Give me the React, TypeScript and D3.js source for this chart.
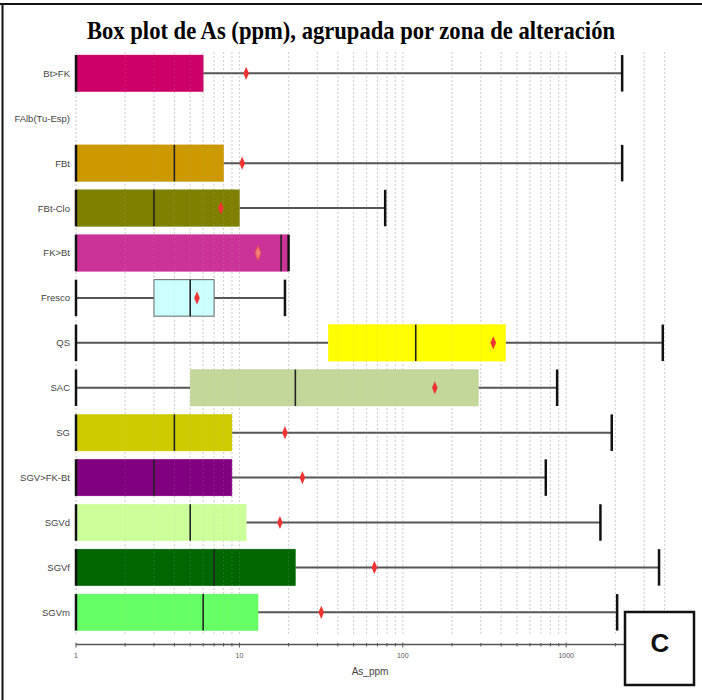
import React from "react";
import * as d3 from "d3";

const categories = ["Bt>FK", "FAlb(Tu-Esp)", "FBt", "FBt-Clo", "FK>Bt", "Fresco", "QS", "SAC", "SG", "SGV>FK-Bt", "SGVd", "SGVf", "SGVm"];
const mins: (number | null)[] = [1, null, 1, 1, 1, 1, 1, 1, 1, 1, 1, 1, 1];
const q1s: (number | null)[] = [1, null, 1, 1, 1, 3, 35, 5, 1, 1, 1, 1, 1];
const medians: (number | null)[] = [1, null, 4, 3, 18, 5, 120, 22, 4, 3, 5, 7, 6];
const q3s: (number | null)[] = [6, null, 8, 10, 20, 7, 425, 290, 9, 9, 11, 22, 13];
const maxs: (number | null)[] = [2200, null, 2200, 78, 20, 19, 3900, 880, 1900, 750, 1620, 3700, 2050];
const means: (number | null)[] = [11, null, 10.4, 7.7, 13, 5.5, 358, 157, 19, 24.3, 17.7, 67, 31.7];
const boxColors = ["#CC0066", "#FFFFFF", "#CC9900", "#808000", "#CC3399", "#CCFFFF", "#FFFF00", "#C4D79B", "#CCCC00", "#800080", "#CCFF99", "#006600", "#66FF66"];
const tickLabels = [1, 10, 100, 1000];
const titleText = "Box plot de As (ppm), agrupada por zona de alteración";
const xTitle = "As_ppm";

const W = 702;
const H = 700;

export default function App() {
  const x = d3.scaleLog().domain([1, 4500]).range([76, 76 + 163.4 * Math.log10(4500)]);
  const y = d3.scaleBand<string>().domain(categories).range([50.85, 634.8]).padding(0);
  const bh = 36.5;
  const cy = (c: string) => (y(c) as number) + y.bandwidth() / 2;

  const gridVals: number[] = [];
  for (let k = 0; k < 4; k++) {
    for (let m = 1; m <= 9; m++) {
      const v = m * Math.pow(10, k);
      if (v <= 4000) gridVals.push(v);
    }
  }

  const axisY = 644.5;
  const diamond = d3.symbol().type(d3.symbolDiamond).size(38)();

  return (
    <svg width={W} height={H} style={{ position: "fixed", left: 0, top: 0, background: "#fff" }}>
      <rect x={0} y={0} width={W} height={H} fill="#fff" />
      {/* frame */}
      <line x1={0} x2={W} y1={4} y2={4} stroke="#111" strokeWidth={2} />
      <line x1={2.5} x2={2.5} y1={3} y2={H} stroke="#111" strokeWidth={2} />

      <text x={351} y={39} textAnchor="middle" fontFamily="Liberation Serif" fontWeight="bold" fontSize={26}
        textLength={528} lengthAdjust="spacingAndGlyphs" fill="#000">{titleText}</text>

      {/* grid behind */}
      {gridVals.map((v) => (
        <line key={"g" + v} x1={x(v)} x2={x(v)} y1={52} y2={634} stroke="#d4d4d4" strokeWidth={1}
          strokeDasharray="2,2" />
      ))}

      {/* boxes */}
      {categories.map((c, i) => {
        if (q1s[i] == null) return null;
        const yc = cy(c);
        const isFresco = c === "Fresco";
        return (
          <g key={c}>
            <line x1={x(mins[i] as number)} x2={x(q1s[i] as number)} y1={yc} y2={yc} stroke="#555" strokeWidth={2} />
            <line x1={x(q3s[i] as number)} x2={x(maxs[i] as number)} y1={yc} y2={yc} stroke="#555" strokeWidth={2} />
            <rect x={x(q1s[i] as number)} y={yc - bh / 2} width={x(q3s[i] as number) - x(q1s[i] as number)} height={bh}
              fill={boxColors[i]} stroke={isFresco ? "#666" : boxColors[i]} strokeWidth={isFresco ? 1 : 0.5} />
          </g>
        );
      })}

      {/* faint grid overlay */}
      {gridVals.map((v) => (
        <line key={"go" + v} x1={x(v)} x2={x(v)} y1={52} y2={634} stroke="#bbbbbb" strokeWidth={1}
          strokeDasharray="2,2" opacity={0.18} />
      ))}

      {categories.map((c, i) => {
        if (q1s[i] == null) return null;
        const yc = cy(c);
        return (
          <g key={"m" + c}>
            <line x1={x(medians[i] as number)} x2={x(medians[i] as number)} y1={yc - bh / 2} y2={yc + bh / 2} stroke="#222" strokeWidth={1.6} />
            <line x1={x(mins[i] as number)} x2={x(mins[i] as number)} y1={yc - bh / 2} y2={yc + bh / 2} stroke="#111" strokeWidth={2.5} />
            <line x1={x(maxs[i] as number)} x2={x(maxs[i] as number)} y1={yc - bh / 2} y2={yc + bh / 2} stroke="#111" strokeWidth={2.5} />
            <path d={diamond as string} transform={`translate(${x(means[i] as number)},${yc}) scale(0.85,1.15)`}
              fill={c === "FK>Bt" ? "#F08080" : "#EE3333"} stroke={c === "FK>Bt" ? "#F06040" : "none"} strokeWidth={1} />
          </g>
        );
      })}

      {/* y labels */}
      {categories.map((c) => (
        <text key={"l" + c} x={70} y={cy(c) + 3.5} textAnchor="end" fontFamily="Liberation Sans" fontSize={9.5} fill="#444">{c}</text>
      ))}

      {/* x axis */}
      <line x1={x(1)} x2={x(4500)} y1={axisY} y2={axisY} stroke="#555" strokeWidth={1.5} />
      {gridVals.map((v) => {
        const major = tickLabels.indexOf(v) >= 0;
        return <line key={"t" + v} x1={x(v)} x2={x(v)} y1={axisY - (major ? 2 : 1.5)} y2={axisY + (major ? 3 : 2)} stroke="#555" strokeWidth={1} />;
      })}
      {tickLabels.map((v) => (
        <text key={"tl" + v} x={x(v)} y={658} textAnchor="middle" fontFamily="Liberation Sans" fontSize={7} fill="#555">{v}</text>
      ))}
      <text x={370} y={675} textAnchor="middle" fontFamily="Liberation Sans" fontSize={10} fill="#444">{xTitle}</text>

      {/* C label box */}
      <rect x={625} y={612} width={69} height={73} fill="#fff" stroke="#111" strokeWidth={2.5} />
      <text x={660} y={652} textAnchor="middle" fontFamily="Liberation Sans" fontWeight="bold" fontSize={26} fill="#111">C</text>
    </svg>
  );
}
